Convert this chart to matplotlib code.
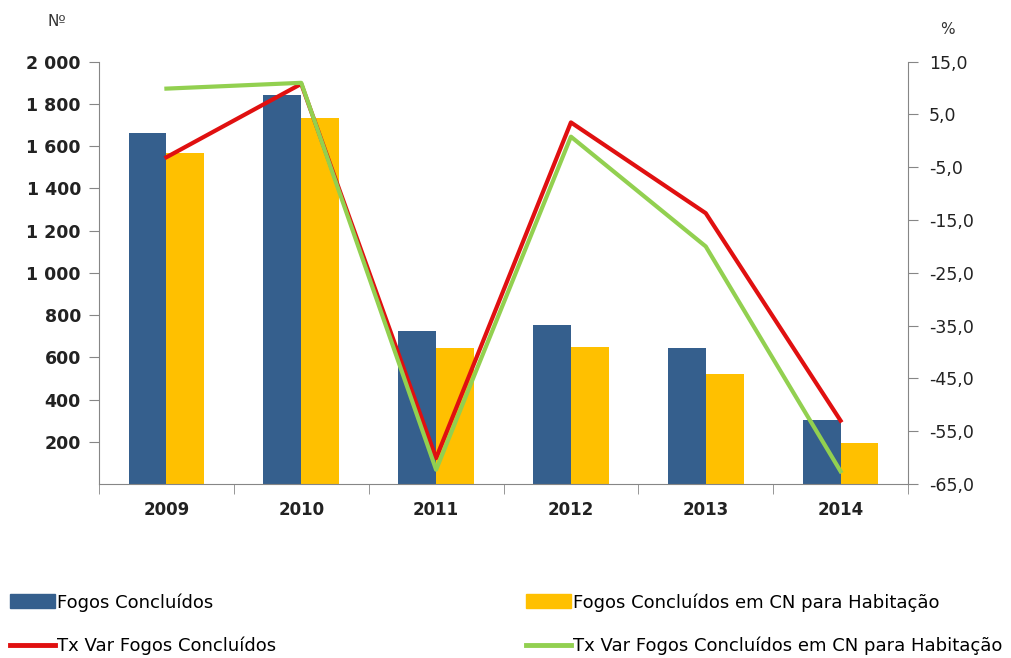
import matplotlib
matplotlib.use("Agg")
import matplotlib.pyplot as plt
import numpy as np
from matplotlib.patches import Patch
from matplotlib.lines import Line2D

years = ["2009", "2010", "2011", "2012", "2013", "2014"]
fogos_concluidos = [1661, 1841, 723, 753, 644, 303]
fogos_cn_habitacao = [1566, 1733, 646, 650, 522, 194]
tx_var_fogos = [-3.1, 10.8, -60.1, 3.5, -13.7, -53.0]
tx_var_cn_habitacao = [9.9, 11.0, -62.3, 0.8, -20.0, -62.6]

left_ticks = [200, 400, 600, 800, 1000, 1200, 1400, 1600, 1800, 2000]
right_ticks = [15, 5, -5, -15, -25, -35, -45, -55, -65]

BLUE = "#355F8D"
YELLOW = "#FFC000"
RED = "#E01010"
GREEN = "#92D050"
GRAY = "#868686"

plt.rcParams['font.family'] = ['DejaVu Sans']

fig = plt.figure(figsize=(10.11, 6.58), dpi=100)
ax = fig.add_axes([99/1011, 1-484/658, (908-99)/1011, (484-61.7)/658])
x = np.arange(len(years))
w = 0.28
ax.bar(x - w/2, fogos_concluidos, width=w, color=BLUE, zorder=2)
ax.bar(x + w/2, fogos_cn_habitacao, width=w, color=YELLOW, zorder=2)
ax.set_xlim(-0.5, len(years) - 0.5)
ax.set_ylim(0, 2000)
ax.set_yticks(left_ticks)
ax.set_yticklabels([f"{v:,}".replace(",", " ") for v in left_ticks],
                   fontsize=12.5, fontweight='bold', color='#222222')
ax.set_xticks(x)
ax.set_xticklabels(years, fontsize=12, fontweight='bold', color='#222222')
ax.set_xticks(np.arange(-0.5, len(years)), minor=True)
ax.tick_params(axis='x', which='major', length=0, pad=12)
ax.tick_params(axis='x', which='minor', length=7, color=GRAY, direction='out')
ax.tick_params(axis='y', length=7, color=GRAY, direction='out', pad=6)
for s in ['top', 'right']:
    ax.spines[s].set_visible(False)
for s in ['left', 'bottom']:
    ax.spines[s].set_color(GRAY)

ax2 = ax.twinx()
ax2.plot(x, tx_var_fogos, color=RED, lw=3, zorder=3)
ax2.plot(x, tx_var_cn_habitacao, color=GREEN, lw=3, zorder=3)
ax2.set_ylim(-65, 15)
ax2.set_yticks(right_ticks)
ax2.set_yticklabels([f"{v:.1f}".replace(".", ",") for v in right_ticks],
                    fontsize=12.5, color='#222222')
ax2.tick_params(axis='y', length=7, color=GRAY, direction='out', pad=8)
for s in ['top', 'left', 'bottom']:
    ax2.spines[s].set_visible(False)
ax2.spines['right'].set_color(GRAY)

fig.text(57/1011, 1-22/658, "Nº", fontsize=11, ha='center', va='center', color='#333333')
fig.text(947/1011, 1-30/658, "%", fontsize=11, ha='center', va='center', color='#333333')

legfont = {'family': ['DejaVu Sans'], 'size': 13}
handles1 = [Patch(color=BLUE), Line2D([], [], color=RED, lw=3.5)]
labels1 = ["Fogos Concluídos", "Tx Var Fogos Concluídos"]
handles2 = [Patch(color=YELLOW), Line2D([], [], color=GREEN, lw=3.5)]
labels2 = ["Fogos Concluídos em CN para Habitação", "Tx Var Fogos Concluídos em CN para Habitação"]
common = dict(loc='upper left', frameon=False, prop=legfont, handlelength=2.5,
              handleheight=0.8, handletextpad=0.1, labelspacing=1.4, borderaxespad=0,
              borderpad=0)
fig.legend(handles1, labels1, bbox_to_anchor=(10/1011, 1-593/658), **common)
fig.legend(handles2, labels2, bbox_to_anchor=(526/1011, 1-593/658), **common)

fig.savefig("out.png", dpi=100, facecolor='white')
